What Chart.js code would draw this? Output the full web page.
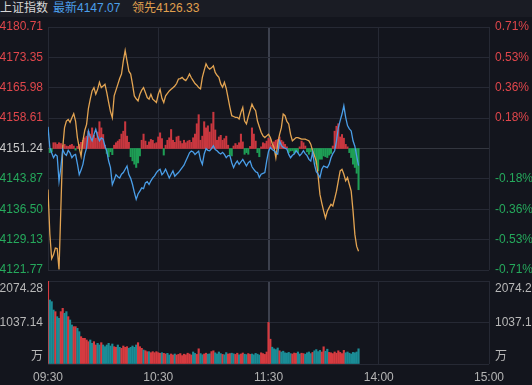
<!DOCTYPE html>
<html><head><meta charset="utf-8">
<script src="https://cdn.jsdelivr.net/npm/chart.js@4.4.1/dist/chart.umd.min.js"></script>
<style>
html,body{margin:0;padding:0;background:#13151d;width:532px;height:385px;overflow:hidden;}
#hdr{position:absolute;left:0;top:0;width:532px;height:17px;background:#1a1c24;font:12px "Liberation Sans","Noto Sans CJK SC",sans-serif;line-height:17px;}
#hdr span{position:absolute;top:0;white-space:nowrap;}
#top{position:absolute;left:0;top:0;width:532px;height:280px;}
#bot{position:absolute;left:0;top:272px;width:532px;height:113px;}
</style></head><body>
<div id="top"><canvas id="c1"></canvas></div>
<div id="bot"><canvas id="c2"></canvas></div>
<div id="hdr"><span style="left:0;color:#d6d6d6">上证指数</span><span id="h1" style="left:53px;color:#4b9fea"></span><span id="h2" style="left:132px;color:#e0a04e"></span></div>
<script>
const prevClose = 4151.24;
const priceTicks = [4121.77,4129.13,4136.50,4143.87,4151.24,4158.61,4165.98,4173.35,4180.71];
const timeTickMinutes = [0,60,120,180,240];
const timeLabels = ['09:30','10:30','11:30','14:00','15:00'];
const volTicks = [0,1037.14,2074.28];

const indexPrice = [4156.5,4151.5,4150.2,4149.0,4149.8,4149.4,4143.3,4146.6,4151.0,4150.0,
 4149.6,4150.8,4150.2,4149.0,4149.6,4149.8,4147.5,4144.9,4146.0,4147.4,
 4149.8,4151.4,4155.5,4154.0,4153.1,4154.6,4155.9,4154.2,4153.1,4153.8,
 4153.5,4151.8,4150.6,4148.2,4146.6,4142.5,4143.6,4144.9,4144.4,4144.1,
 4145.0,4145.4,4146.2,4147.0,4144.9,4144.0,4142.5,4140.6,4138.9,4140.2,
 4140.9,4141.7,4141.5,4142.9,4143.2,4142.5,4143.4,4144.1,4144.6,4145.4,
 4145.9,4146.2,4144.9,4145.4,4146.2,4145.2,4144.1,4145.0,4145.8,4144.5,
 4145.0,4145.4,4146.0,4146.6,4147.2,4148.2,4149.2,4150.2,4150.6,4150.4,
 4149.8,4150.2,4150.6,4148.5,4147.4,4149.9,4151.2,4150.8,4150.7,4151.2,
 4151.9,4151.0,4150.7,4150.2,4149.9,4150.3,4149.8,4149.0,4149.5,4149.5,
 4147.8,4146.6,4147.6,4148.2,4147.4,4148.0,4148.6,4147.8,4147.0,4147.8,
 4148.2,4146.8,4146.2,4145.6,4145.4,4144.2,4145.0,4145.2,4145.4,4148.2,
 4150.5,4151.5,4151.0,4150.7,4150.2,4149.9,4153.1,4152.0,4151.5,4151.3,
 4151.1,4149.8,4149.0,4149.6,4149.9,4150.7,4150.2,4149.5,4150.0,4150.7,
 4150.0,4149.5,4148.6,4148.2,4150.3,4147.4,4145.6,4145.0,4144.2,4146.2,
 4147.0,4146.8,4146.6,4147.4,4149.0,4150.0,4150.7,4153.1,4156.3,4158.0,
 4159.6,4161.6,4158.8,4156.8,4156.0,4155.5,4153.1,4151.8,4149.4,4147.07];

const leadingIndex = [4141.3,4130.5,4124.5,4125.5,4127.1,4127.0,4121.9,4136.8,4151.4,4156.3,
 4157.9,4158.3,4157.6,4158.7,4159.7,4157.9,4153.9,4151.4,4149.4,4153.1,
 4155.6,4157.1,4161.0,4163.2,4165.2,4166.0,4164.4,4165.6,4167.3,4166.0,
 4166.4,4166.8,4164.8,4162.4,4160.2,4158.7,4164.0,4165.4,4166.8,4168.2,
 4169.3,4172.5,4175.0,4172.5,4170.0,4169.3,4166.8,4164.0,4163.3,4162.8,
 4164.4,4165.4,4166.0,4164.8,4163.6,4163.2,4164.4,4163.2,4162.8,4162.4,
 4164.4,4165.6,4163.4,4162.4,4164.0,4164.6,4165.2,4165.6,4166.0,4166.4,
 4167.0,4168.1,4168.2,4168.5,4168.0,4167.7,4168.4,4169.3,4168.4,4167.7,
 4167.0,4166.6,4166.0,4165.7,4168.5,4170.2,4171.8,4170.9,4170.5,4170.8,
 4171.3,4169.7,4169.0,4168.5,4166.9,4166.1,4167.3,4165.8,4163.5,4161.2,
 4159.2,4159.0,4158.8,4158.8,4158.4,4160.0,4161.2,4157.9,4157.2,4159.0,
 4160.5,4162.0,4161.0,4160.4,4157.9,4156.5,4155.2,4154.3,4153.9,4154.3,
 4154.7,4153.9,4152.5,4151.5,4149.0,4152.3,4154.6,4156.3,4159.6,4159.2,
 4157.8,4157.2,4154.7,4153.1,4153.5,4153.9,4153.9,4153.7,4153.5,4153.5,
 4153.5,4153.3,4153.1,4152.3,4150.7,4149.5,4148.2,4144.6,4140.1,4138.0,
 4136.1,4134.4,4136.0,4136.9,4137.7,4137.3,4139.0,4140.9,4143.4,4145.8,
 4146.2,4145.0,4143.4,4144.2,4142.5,4140.9,4136.1,4130.4,4127.5,4126.33];

const strength = [0,-1.0,-0.8,1.4,1.4,1.0,1.4,1.2,0.8,1.0,
 0.6,0.5,0.8,1.0,0.6,-0.4,0.5,1.0,1.5,2.0,
 2.6,3.0,4.2,3.5,5.0,3.2,2.5,4.0,6.5,5.0,
 3.4,0.8,-1.2,-2.0,-0.8,-1.5,0.8,1.4,1.8,2.2,
 3.5,4.2,6.5,3.0,1.5,-2.0,-3.0,-3.8,-4.6,-3.5,
 -1.8,2.0,3.5,1.8,0.8,1.6,2.2,2.0,1.2,1.4,
 2.8,3.8,2.4,-1.6,0.8,2.0,2.6,4.6,2.0,1.5,
 2.8,3.0,1.8,1.2,2.0,1.4,1.8,2.0,1.5,2.6,
 3.5,6.0,8.2,2.0,3.0,6.5,5.0,5.5,4.0,6.0,
 8.8,4.5,2.0,2.8,3.2,2.0,2.4,3.0,0.8,-1.5,
 -1.8,0.6,1.2,0.8,1.4,3.5,1.6,-1.4,-1.0,-1.4,
 0.5,5.0,3.5,1.8,-1.0,-2.0,0.4,1.4,1.2,1.8,
 2.5,2.2,0.8,1.6,2.0,2.2,2.8,2.0,1.6,1.0,
 0.4,-1.0,-0.6,-0.5,-1.2,-0.6,-1.0,0.4,1.8,1.4,
 0.6,-0.8,-1.4,-0.8,-1.2,-1.6,-3.8,-5.4,-2.6,-2.6,
 -1.8,-2.0,-2.2,-1.6,-1.2,0.6,4.2,5.4,6.0,2.8,
 3.4,2.5,1.0,0.4,-1.0,-2.2,-3.8,-4.6,-6.0,-10.0];

const volume = [2074,1600,1558,1350,1308,1183,1142,1308,1392,1267,
 1308,1183,1100,975,933,933,892,808,683,642,
 642,600,558,600,517,558,475,517,475,533,
 475,433,475,517,450,500,433,417,475,417,
 392,450,417,433,392,417,450,417,475,533,
 433,392,350,333,308,308,283,308,283,308,
 283,267,283,267,250,267,225,250,225,250,
 225,240,260,210,245,230,270,250,225,300,
 265,240,380,260,230,250,270,245,255,310,
 330,280,250,300,260,240,230,285,250,260,
 270,255,240,270,230,250,275,245,235,260,
 240,250,230,265,245,225,280,260,240,300,
 1040,620,420,380,360,400,330,300,320,280,
 270,290,260,250,275,265,300,250,270,260,
 245,280,300,260,290,330,360,310,340,300,
 430,320,370,290,280,260,300,270,330,290,
 260,340,280,300,270,250,290,280,300,380];

document.getElementById('h1').textContent = '最新' + indexPrice[indexPrice.length-1].toFixed(2);
document.getElementById('h2').textContent = '领先' + leadingIndex[leadingIndex.length-1].toFixed(2);

Chart.defaults.font.family = '"Liberation Sans","Noto Sans CJK SC",sans-serif';
Chart.defaults.font.size = 12;

const GRID = '#262934';
const RED = '#e0464b', GREEN = '#25a95c';
const vGridColor = c => (c.tick && c.tick.value === 120) ? '#3d414e' : GRID;
const vGridWidth = c => (c.tick && c.tick.value === 120) ? 2 : 1;
const priceColor = v => v > prevClose + 0.001 ? RED : (v < prevClose - 0.001 ? GREEN : '#c9c9c9');
const setTicks = arr => s => { s.ticks = arr.map(v => ({value: v})); };

new Chart(document.getElementById('c1'), {
  type:'bar',
  data:{datasets:[
    {type:'line', label:'上证指数', data: indexPrice.map((v,i)=>({x:i,y:v})), borderColor:'#4a9ee8', borderWidth:1.3, pointRadius:0, tension:0, fill:false, order:0},
    {type:'line', label:'领先', data: leadingIndex.map((v,i)=>({x:i,y:v})), borderColor:'#e3a452', borderWidth:1.3, pointRadius:0, tension:0, fill:false, order:0},
    {type:'bar', label:'力度', data: strength.map((s,i)=>({x:i,y:[prevClose, prevClose+s]})),
      backgroundColor: strength.map(s => s >= 0 ? '#c8373f' : '#1e9e55'), barThickness:1.4, order:1}
  ]},
  options:{
    responsive:true, maintainAspectRatio:false, animation:false, devicePixelRatio:1,
    layout:{padding:{top:27, bottom:10, left:0, right:0}},
    plugins:{legend:{display:false}, tooltip:{enabled:false}},
    scales:{
      x:{type:'linear', min:0, max:240, offset:false,
        afterBuildTicks: setTicks(timeTickMinutes),
        ticks:{display:false}, grid:{offset:false, drawTicks:false, color:vGridColor, lineWidth:vGridWidth}, border:{display:false}},
      y:{position:'left', min:4121.77, max:4180.71,
        afterBuildTicks: setTicks(priceTicks),
        afterFit: s => { s.width = 48; s.paddingTop = 0; s.paddingBottom = 0; },
        ticks:{padding:5, color: c => priceColor(c.tick.value), callback: v => Number(v).toFixed(2)},
        grid:{drawTicks:false, color: c => (c.tick && c.tick.value === prevClose) ? '#33363f' : GRID},
        border:{color:GRID}},
      y2:{position:'right', min:4121.77, max:4180.71,
        afterBuildTicks: setTicks(priceTicks),
        afterFit: s => { s.width = 43; s.paddingTop = 0; s.paddingBottom = 0; },
        ticks:{padding:6, color: c => priceColor(c.tick.value),
          callback: v => Math.abs(v - prevClose) < 0.001 ? '' : ((v - prevClose) / prevClose * 100).toFixed(2) + '%'},
        grid:{drawOnChartArea:false, drawTicks:false}, border:{display:false}}
    }
  }
});

const volColors = volume.map((v,i) => {
  const prev = i === 0 ? prevClose : indexPrice[i-1];
  return indexPrice[i] >= prev ? '#d63b40' : '#1b8c96';
});
const volLabel = v => v === volTicks[2] ? ['', v.toFixed(2)] : (v === 0 ? ['万', ''] : v.toFixed(2));

new Chart(document.getElementById('c2'), {
  type:'bar',
  data:{datasets:[
    {label:'成交量', data: volume.map((v,i)=>({x:i,y:v})), backgroundColor: volColors, barThickness:1.5}
  ]},
  options:{
    responsive:true, maintainAspectRatio:false, animation:false, devicePixelRatio:1,
    layout:{padding:{top:9, bottom:0, left:0, right:0}},
    plugins:{legend:{display:false}, tooltip:{enabled:false}},
    scales:{
      x:{type:'linear', min:0, max:240, offset:false,
        afterBuildTicks: setTicks(timeTickMinutes),
        afterFit: s => { s.height = 21; s.paddingLeft = 0; s.paddingRight = 0; },
        ticks:{padding:6, color:'#b4b4b4', maxRotation:0, autoSkip:false,
          callback: v => timeLabels[timeTickMinutes.indexOf(v)]},
        grid:{offset:false, drawTicks:false, color:vGridColor, lineWidth:vGridWidth}, border:{display:false}},
      y:{position:'left', min:0, max:2074.28,
        afterBuildTicks: setTicks(volTicks),
        afterFit: s => { s.width = 48; s.paddingTop = 0; s.paddingBottom = 0; },
        ticks:{padding:5, color:'#b8b8b8', callback: volLabel},
        grid:{drawTicks:false, color:GRID}, border:{color:GRID}},
      y2:{position:'right', min:0, max:2074.28,
        afterBuildTicks: setTicks(volTicks),
        afterFit: s => { s.width = 43; s.paddingTop = 0; s.paddingBottom = 0; },
        ticks:{padding:6, color:'#b8b8b8', callback: volLabel},
        grid:{drawOnChartArea:false, drawTicks:false}, border:{display:false}}
    }
  }
});
</script>
</body></html>
